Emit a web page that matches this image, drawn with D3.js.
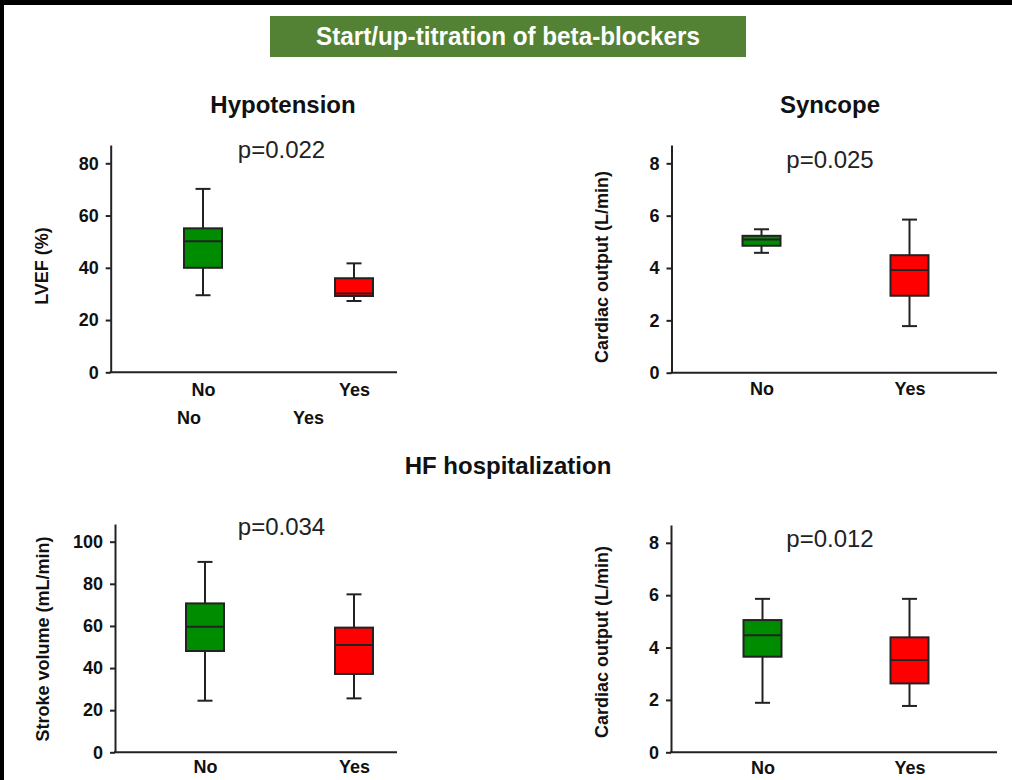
<!DOCTYPE html>
<html>
<head>
<meta charset="utf-8">
<script src="https://cdn.jsdelivr.net/npm/d3@7"></script>
<style>
  html, body { margin: 0; padding: 0; background: #ffffff; }
  svg { display: block; font-family: "Liberation Sans", Arial, Helvetica, sans-serif; }
</style>
</head>
<body>
<svg id="fig" width="1012" height="780"></svg>
<script>
// Groups compared in every panel
const groups = ["No", "Yes"];

// Box summaries: [whisker low, Q1, median, Q3, whisker high]
const lvefNo  = [29.5, 40, 50.2, 55.1, 70.2];
const lvefYes = [27.3, 29.2, 30.2, 36, 41.7];
const syncopeCoNo  = [4.58, 4.85, 5.09, 5.23, 5.48];
const syncopeCoYes = [1.78, 2.94, 3.92, 4.49, 5.85];
const strokeNo  = [24.5, 48.1, 59.6, 70.7, 90.4];
const strokeYes = [25.6, 37.2, 50.9, 59.2, 75.0];
const hfCoNo  = [1.89, 3.65, 4.47, 5.05, 5.86];
const hfCoYes = [1.77, 2.63, 3.52, 4.39, 5.86];

// Axis tick values
const lvefTicks = [0, 20, 40, 60, 80];
const coTicks = [0, 2, 4, 6, 8];
const svTicks = [0, 20, 40, 60, 80, 100];

// Text
const mainTitle = "Start/up-titration of beta-blockers";
const panelTitles = ["Hypotension", "Syncope", "HF hospitalization"];
const yLabels = ["LVEF (%)", "Cardiac output (L/min)", "Stroke volume (mL/min)", "Cardiac output (L/min)"];
const pValues = ["p=0.022", "p=0.025", "p=0.034", "p=0.012"];

const groupColors = ["#008c00", "#ff0000"];

const svg = d3.select("#fig");

// Frame edges
svg.append("rect").attr("x", 0).attr("y", 0).attr("width", 1012).attr("height", 5).attr("fill", "#000");
svg.append("rect").attr("x", 0).attr("y", 0).attr("width", 4).attr("height", 780).attr("fill", "#000");

// Title banner
svg.append("rect").attr("x", 270).attr("y", 16).attr("width", 476).attr("height", 41)
  .attr("fill", "#548235");
svg.append("text").attr("x", 508).attr("y", 45).attr("text-anchor", "middle")
  .attr("fill", "#ffffff").attr("font-weight", "bold").attr("font-size", 25)
  .attr("textLength", 384).attr("lengthAdjust", "spacingAndGlyphs")
  .style("font-family", "'Liberation Sans Narrow', 'Arial Narrow', 'Liberation Sans', sans-serif")
  .text(mainTitle);

// Panel titles
const titlePos = [[283, 113], [830, 113], [508, 474]];
panelTitles.forEach((t, i) => {
  svg.append("text").attr("x", titlePos[i][0]).attr("y", titlePos[i][1])
    .attr("text-anchor", "middle").attr("font-weight", "bold").attr("font-size", 24)
    .attr("fill", "#111").text(t);
});

// Panel layouts
const panels = [
  { data: [lvefNo, lvefYes], ticks: lvefTicks, yMax: 87, yLabel: yLabels[0], p: pValues[0],
    axisX: 110.7, xEnd: 397, yBase: 372.3, yTop: 145, centers: [203, 354],
    pPos: [281.5, 158], yLabelPos: [42, 266], xLabelY: 396 },
  { data: [syncopeCoNo, syncopeCoYes], ticks: coTicks, yMax: 8.7, yLabel: yLabels[1], p: pValues[1],
    axisX: 671.5, xEnd: 997, yBase: 372.7, yTop: 145, centers: [761.5, 909.5],
    pPos: [830, 167.5], yLabelPos: [602, 267], xLabelY: 395 },
  { data: [strokeNo, strokeYes], ticks: svTicks, yMax: 108.4, yLabel: yLabels[2], p: pValues[2],
    axisX: 115, xEnd: 397, yBase: 752.3, yTop: 524, centers: [205, 354],
    pPos: [281.5, 535], yLabelPos: [43, 639], xLabelY: 773 },
  { data: [hfCoNo, hfCoYes], ticks: coTicks, yMax: 8.68, yLabel: yLabels[3], p: pValues[3],
    axisX: 671, xEnd: 997, yBase: 752.3, yTop: 525, centers: [762.5, 909.5],
    pPos: [830, 546.5], yLabelPos: [602, 642], xLabelY: 774 }
];

const boxW = 38, capW = 15;
const labelSize = 18;

panels.forEach(pn => {
  const g = svg.append("g");
  const y = d3.scaleLinear().domain([0, pn.yMax]).range([pn.yBase, pn.yTop]);
  const x = d3.scalePoint().domain(groups).range(pn.centers);

  // y axis
  const yAx = g.append("g").attr("transform", `translate(${pn.axisX},0)`)
    .call(d3.axisLeft(y).tickValues(pn.ticks).tickSize(5).tickSizeOuter(0).tickPadding(7));
  yAx.select(".domain").attr("stroke", "#222").attr("stroke-width", 2);
  yAx.selectAll(".tick line").attr("stroke", "#222").attr("stroke-width", 2);
  yAx.selectAll(".tick text").attr("font-size", labelSize).attr("font-weight", "bold")
    .attr("fill", "#111").style("font-family", "'Liberation Sans', Arial, sans-serif");

  // x axis baseline
  g.append("line").attr("x1", pn.axisX - 1).attr("x2", pn.xEnd)
    .attr("y1", y(0)).attr("y2", y(0)).attr("stroke", "#222").attr("stroke-width", 2);

  // category labels (baseline at xLabelY)
  const xAx = g.append("g").attr("transform", `translate(0,${pn.xLabelY - 0.71 * labelSize})`)
    .call(d3.axisBottom(x).tickSize(0).tickPadding(0));
  xAx.select(".domain").remove();
  xAx.selectAll(".tick text").attr("font-size", labelSize).attr("font-weight", "bold")
    .attr("fill", "#111").attr("y", 0).attr("dy", "0.71em")
    .style("font-family", "'Liberation Sans', Arial, sans-serif");

  // boxes
  groups.forEach((grp, i) => {
    const s = pn.data[i];
    const cx = x(grp);
    const bg = g.append("g");
    bg.append("line").attr("x1", cx).attr("x2", cx).attr("y1", y(s[0])).attr("y2", y(s[4]))
      .attr("stroke", "#222").attr("stroke-width", 2);
    [s[0], s[4]].forEach(v => {
      bg.append("line").attr("x1", cx - capW / 2).attr("x2", cx + capW / 2)
        .attr("y1", y(v)).attr("y2", y(v)).attr("stroke", "#222").attr("stroke-width", 2);
    });
    bg.append("rect").attr("x", cx - boxW / 2).attr("width", boxW)
      .attr("y", y(s[3])).attr("height", y(s[1]) - y(s[3]))
      .attr("fill", groupColors[i]).attr("stroke", "#222").attr("stroke-width", 2);
    bg.append("line").attr("x1", cx - boxW / 2).attr("x2", cx + boxW / 2)
      .attr("y1", y(s[2])).attr("y2", y(s[2])).attr("stroke", "#222").attr("stroke-width", 2);
  });

  // p-value
  g.append("text").attr("x", pn.pPos[0]).attr("y", pn.pPos[1]).attr("text-anchor", "middle")
    .attr("font-size", 24).attr("fill", "#222").text(pn.p);

  // y-axis title
  g.append("text")
    .attr("transform", `translate(${pn.yLabelPos[0]},${pn.yLabelPos[1]}) rotate(-90)`)
    .attr("text-anchor", "middle").attr("dy", "0.35em")
    .attr("font-size", 18).attr("font-weight", "bold").attr("fill", "#111")
    .text(pn.yLabel);
});

// Additional group labels under the first panel
const extraLabelX = d3.scalePoint().domain(groups).range([189, 308.5]);
groups.forEach(grp => {
  svg.append("text").attr("x", extraLabelX(grp)).attr("y", 424).attr("text-anchor", "middle")
    .attr("font-size", labelSize).attr("font-weight", "bold").attr("fill", "#111").text(grp);
});
</script>
</body>
</html>
